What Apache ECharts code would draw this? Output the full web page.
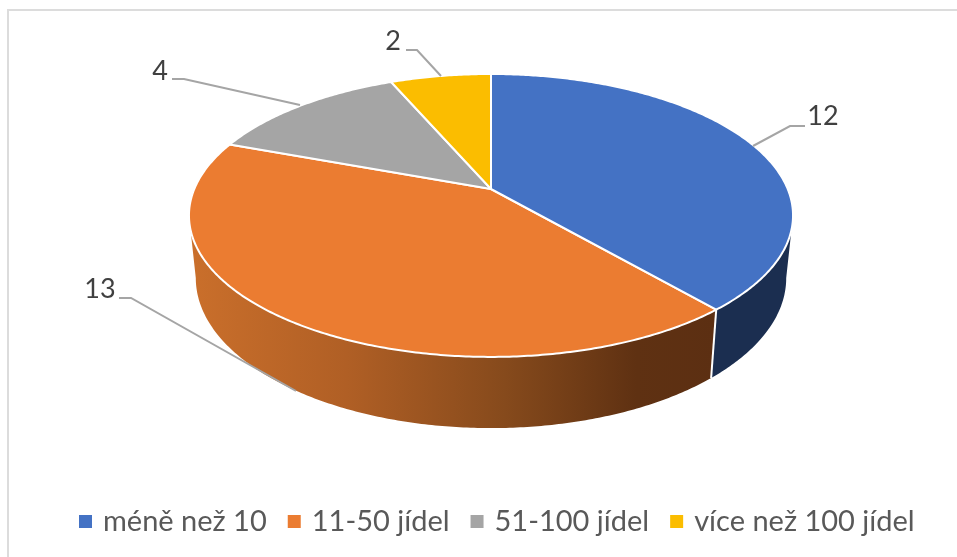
<!DOCTYPE html>
<html><head><meta charset="utf-8">
<style>html,body{margin:0;padding:0;background:#fff}#c{width:957px;height:557px}</style>
<script src="https://cdn.jsdelivr.net/npm/echarts@6/dist/echarts.min.js"></script>
</head><body><div id="c"></div>
<script>
const categories = ['méně než 10', '11-50 jídel', '51-100 jídel', 'více než 100 jídel'];
const values = [12, 13, 4, 2];
const colors = ['#4472C4', '#EB7C31', '#A5A5A5', '#FBBD00'];

const total = values.reduce((a, b) => a + b, 0);
const cx = 491;
const top_ = {cy: 189, a: 296.7, b: 136.5, k: 0.187};
const low = {cy: 250, a: 290, b: 144.8, k: 0.187};
const silhouette = 100.8 * Math.PI / 180;
const labelLayout = [
  {path: [[753, 146], [790, 126], [805, 126]], x: 823, y: 116},
  {path: [[296, 391], [131, 298], [119, 298]], x: 100, y: 289},
  {path: [[300, 105], [184, 79], [172, 79]], x: 160, y: 71},
  {path: [[441, 76], [417, 50], [406, 50]], x: 393, y: 41}
];
function proj(e, t) {
  const u = Math.sin(t), v = -Math.cos(t), d = 1 - e.k * v;
  return [cx + e.a * u / d, e.cy + e.b * v / d];
}
function arc(e, t0, t1) {
  const n = Math.max(2, Math.ceil(Math.abs(t1 - t0) / 0.01)), out = [];
  for (let i = 0; i <= n; i++) out.push(proj(e, t0 + (t1 - t0) * i / n));
  return out;
}
function bounds(i) {
  const before = values.slice(0, i).reduce((a, b) => a + b, 0);
  return [before / total * 2 * Math.PI, (before + values[i]) / total * 2 * Math.PI];
}
const wallFills = [
  '#1B2E50',
  {type: 'linear', global: true, x: 190, y: 0, x2: 715, y2: 0, colorStops: [
    {offset: 0, color: '#CA6F2B'}, {offset: 0.3, color: '#B05F25'},
    {offset: 0.6, color: '#864A1C'}, {offset: 0.85, color: '#5F3112'}, {offset: 1, color: '#5C2F12'}]}
];
function renderItem(params, api) {
  const i = params.seriesIndex, [t0, t1] = bounds(i), kids = [];
  const wa = Math.max(t0, silhouette), wb = Math.min(t1, 2 * Math.PI - silhouette);
  if (wb > wa) {
    kids.push({type: 'polygon', z2: 1, shape: {points: arc(top_, wa, wb).concat(arc(low, wb, wa))},
      style: {fill: wallFills[i]}});
    if (t1 === wb) kids.push({type: 'line', z2: 2,
      shape: {x1: proj(top_, t1)[0], y1: proj(top_, t1)[1], x2: proj(low, t1)[0], y2: proj(low, t1)[1]},
      style: {stroke: '#fff', lineWidth: 2}});
  }
  kids.push({type: 'polygon', z2: 3, shape: {points: [[cx, top_.cy]].concat(arc(top_, t0, t1))},
    style: {fill: api.visual('color'), stroke: '#fff', lineWidth: 2, lineJoin: 'round'}});
  const L = labelLayout[i];
  kids.push({type: 'polyline', z2: 4, shape: {points: L.path},
    style: {fill: null, stroke: '#A5A5A5', lineWidth: 2}});
  kids.push({type: 'text', z2: 5, style: {text: String(api.value(0)), x: L.x, y: L.y,
    align: 'center', verticalAlign: 'middle', fill: '#404040', font: '27px Lato'}});
  return {type: 'group', children: kids};
}
const chart = echarts.init(document.getElementById('c'));
chart.setOption({
  animation: false,
  backgroundColor: '#fff',
  graphic: [{type: 'polyline', silent: true, shape: {points: [[8, 557], [8, 10], [957, 10]]},
    style: {fill: null, stroke: '#DCDCDC', lineWidth: 2}}],
  legend: {
    left: 79, top: 507, padding: 0, icon: 'rect', itemWidth: 13, itemHeight: 13, itemGap: 21,
    data: categories, selectedMode: false,
    textStyle: {fontFamily: 'Lato', fontSize: 29, color: '#595959', padding: [0, 0, 0, 6]}
  },
  series: categories.map((name, i) => ({
    type: 'custom', name, coordinateSystem: 'none', renderItem,
    itemStyle: {color: colors[i]}, data: [[values[i]]], silent: true,
    z: i === 0 ? 3 : 2
  }))
});
</script></body></html>
